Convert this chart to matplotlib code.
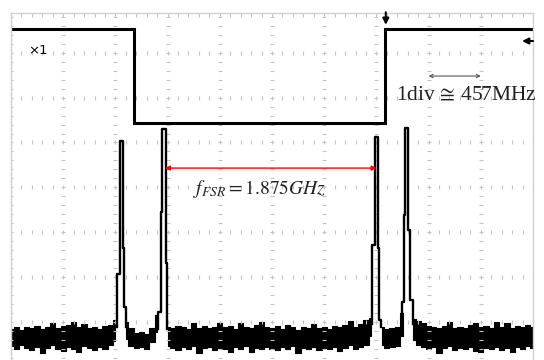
import matplotlib.pyplot as plt
import numpy as np

plt.rcParams['mathtext.fontset'] = 'stix'

######################################### screen data (divisions)
# square wave (top trace)
sq_x = [0.0, 2.36, 2.36, 7.16, 7.16, 10.0]
sq_y = [7.53, 7.53, 5.43, 5.43, 7.53, 7.53]

# noise floor band, sampled every 0.1 div from 0 to 10
noise_x = np.linspace(0, 10, 101)
nan = np.nan
noise_hi = [0.84, 0.88, 0.82, 0.90, 0.86, 0.92, 0.85, 0.89, 0.97, 0.87,
            0.91, 0.94, 1.00, 0.88, 0.95, 0.86, 0.90, 0.84, 0.92, 0.94,
            1.04, nan, 1.00, 0.86, 0.76, 0.78, 0.74, 0.86, 1.15, nan,
            0.90, 0.86, 0.92, 0.88, 0.84, 0.98, 0.87, 0.92, 0.86, 0.90,
            0.99, 0.88, 0.92, 0.85, 0.97, 0.89, 0.86, 0.93, 1.00, 0.88,
            0.86, 0.91, 0.84, 0.94, 0.88, 0.82, 0.90, 0.86, 0.95, 0.87,
            0.90, 0.84, 0.92, 0.88, 0.94, 1.02, 0.90, 0.96, 1.04, 1.10,
            nan, 0.90, 0.84, 0.86, 0.88, 1.20, nan, 1.08, 1.02, 0.98,
            0.92, 0.88, 0.86, 0.92, 1.00, 0.87, 0.90, 0.86, 0.94, 0.99,
            0.88, 0.92, 0.86, 1.00, 0.90, 0.98, 0.87, 0.92, 0.88, 0.94,
            0.90]
noise_lo = [0.46, 0.40, 0.48, 0.42, 0.38, 0.45, 0.32, 0.43, 0.48, 0.41,
            0.36, 0.44, 0.40, 0.34, 0.46, 0.42, 0.38, 0.45, 0.41, 0.48,
            0.58, nan, 0.62, 0.46, 0.42, 0.44, 0.40, 0.55, 0.78, nan,
            0.46, 0.42, 0.38, 0.44, 0.41, 0.46, 0.32, 0.42, 0.45, 0.38,
            0.43, 0.40, 0.34, 0.44, 0.41, 0.46, 0.33, 0.42, 0.39, 0.45,
            0.41, 0.38, 0.44, 0.40, 0.46, 0.32, 0.42, 0.39, 0.44, 0.37,
            0.43, 0.40, 0.45, 0.36, 0.42, 0.48, 0.39, 0.44, 0.50, 0.70,
            nan, 0.48, 0.42, 0.44, 0.46, 0.70, nan, 0.60, 0.50, 0.44,
            0.40, 0.45, 0.32, 0.42, 0.46, 0.38, 0.43, 0.40, 0.45, 0.36,
            0.34, 0.43, 0.40, 0.45, 0.38, 0.42, 0.33, 0.44, 0.40, 0.46,
            0.42]

# resonance peaks (stepped outlines)
peak1_x = [2.036, 2.036, 2.088, 2.088, 2.14, 2.14, 2.165, 2.165, 2.203, 2.203]
peak1_y = [0.90, 2.07, 2.07, 5.03, 5.03, 2.65, 2.65, 1.34, 1.34, 0.90]
peak2_x = [2.822, 2.822, 2.874, 2.874, 2.90, 2.90, 2.964, 2.964, 2.983, 2.983]
peak2_y = [0.85, 1.23, 1.23, 3.45, 3.45, 5.29, 5.29, 2.32, 2.32, 0.85]
peak3_x = [6.916, 6.916, 6.98, 6.98, 7.025, 7.025, 7.045, 7.045, 7.09, 7.09]
peak3_y = [0.95, 2.72, 2.72, 5.12, 5.12, 2.65, 2.65, 1.05, 1.05, 0.90]
peak4_x = [7.49, 7.49, 7.52, 7.52, 7.55, 7.55, 7.61, 7.61, 7.65, 7.65, 7.71, 7.71]
peak4_y = [0.90, 1.45, 1.45, 3.39, 3.39, 5.32, 5.32, 3.05, 3.05, 1.49, 1.49, 0.95]

# FSR marker between peak 2 and peak 3
fsr_x = [2.95, 7.005]
fsr_y = 4.43
fsr_label = r'$f_{FSR}=1.875\mathit{GHz}$'
div_label = r'1div$\,\cong\,$457MHz'


######################################### plot
fig = plt.figure(figsize=(5.44, 3.6), dpi=100)
ax = fig.add_axes([11 / 544, 0, 522 / 544, 347 / 360])
ax.set_xlim(0, 10)
ax.set_ylim(0.156, 7.884)

# graticule: tick marks every 0.2 div along each grid line
gcol = '#c4c4c4'
fine_y = np.arange(0, 8.01, 0.2)
fine_x = np.arange(0, 10.01, 0.2)
for gx in range(0, 10):
    ax.plot([gx] * len(fine_y), fine_y, ls='none', marker='_', ms=3, mew=0.8, color=gcol)
for gy in range(1, 8):
    ax.plot(fine_x, [gy] * len(fine_x), ls='none', marker='|', ms=3, mew=0.8, color=gcol)
ax.plot(fine_x, [7.884 - 0.05] * len(fine_x), ls='none', marker='|', ms=3, mew=0.8, color=gcol)

for s in ['top', 'left', 'right']:
    ax.spines[s].set_color('#d0d0d0')
    ax.spines[s].set_linewidth(1)
ax.spines['bottom'].set_visible(False)
ax.set_xticks([])
ax.set_yticks([])

# traces
ax.plot(sq_x, sq_y, color='black', lw=2.2, solid_joinstyle='miter')
ax.fill_between(noise_x, noise_lo, noise_hi, step='mid', color='black', lw=0.8)
for px, py in [(peak1_x, peak1_y), (peak2_x, peak2_y), (peak3_x, peak3_y), (peak4_x, peak4_y)]:
    ax.plot(px, py, color='black', lw=1.7)

# FSR arrow and label
ax.annotate('', xy=(fsr_x[1], fsr_y), xytext=(fsr_x[0], fsr_y),
            arrowprops=dict(arrowstyle='<|-|>', color='red', lw=1, mutation_scale=7,
                            shrinkA=0, shrinkB=0))
ax.text(4.77, 3.96, fsr_label, fontsize=14, ha='center', va='center', color='#222222')

# division scale
ax.annotate('', xy=(9.0, 6.48), xytext=(8.0, 6.48),
            arrowprops=dict(arrowstyle='<->', color='#555555', lw=0.8, mutation_scale=6,
                            shrinkA=0, shrinkB=0))
ax.text(7.37, 5.95, div_label, fontsize=15.5, family='Liberation Serif',
        ha='left', va='baseline', color='#222222', clip_on=False)

# scope markers
ax.text(0.52, 7.04, '×1', fontsize=9.5, ha='center', va='center', family='DejaVu Sans')
ax.annotate('', xy=(7.18, 7.62), xytext=(7.18, 7.90),
            arrowprops=dict(arrowstyle='-|>', color='black', lw=1.5, mutation_scale=9,
                            shrinkA=0, shrinkB=0), annotation_clip=False)
ax.annotate('', xy=(9.79, 7.26), xytext=(10.0, 7.26),
            arrowprops=dict(arrowstyle='-|>', color='black', lw=1.5, mutation_scale=9,
                            shrinkA=0, shrinkB=0), annotation_clip=False)

fig.savefig('out.png', dpi=100)
